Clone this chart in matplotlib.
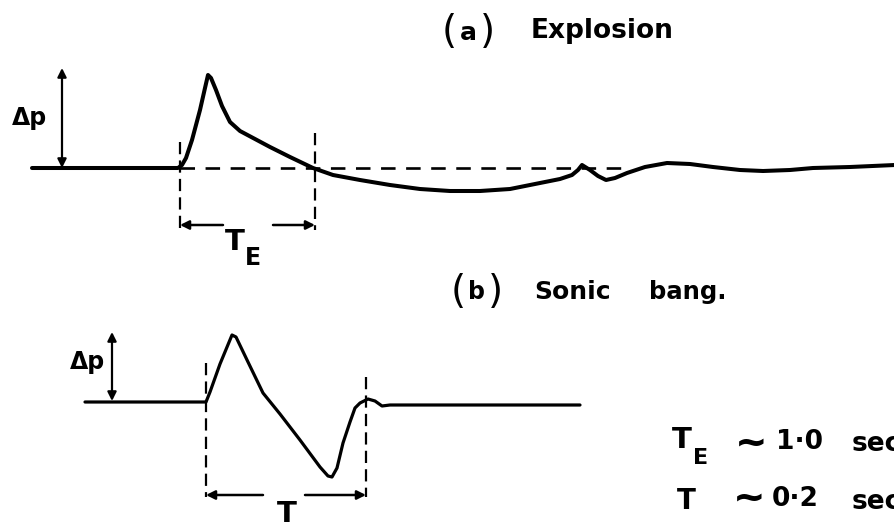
import matplotlib
matplotlib.use("Agg")
import matplotlib.pyplot as plt

# waveforms (drawing units, y grows downward)
explosion_x = [32, 178, 182, 186, 192, 200, 205, 208, 211, 216, 222, 230, 240, 255, 270, 290,
               313, 333, 360, 390, 420, 450, 480, 510, 540, 560, 572, 578, 582, 590, 598, 606,
               615, 627, 645, 667, 690, 713, 740, 763, 790, 813, 850, 895]
explosion_y = [168, 168, 165, 158, 140, 110, 88, 75, 78, 90, 106, 122, 131, 139, 147, 157,
               168, 175, 180, 185, 189, 191, 191, 189, 183, 179, 175, 170, 165, 170, 176, 180,
               178, 173, 167, 163, 164, 167, 170, 171, 170, 168, 167, 165]

sonic_x = [85, 206, 210, 220, 232, 236, 248, 263, 280, 300, 320, 328, 332, 337, 343, 350,
           355, 360, 368, 375, 382, 390, 580]
sonic_y = [402, 402, 392, 364, 335, 337, 362, 393, 414, 440, 467, 476, 477, 468, 443, 422,
           408, 403, 399, 401, 406, 405, 405]

# reference levels / markers
zero_a = 168
te_start, te_end = 180, 315
t_start, t_end = 206, 366
dashed_zero_end = 624

fig = plt.figure(figsize=(8.95, 5.24), dpi=100)
ax = fig.add_axes([0, 0, 1, 1])
ax.set_xlim(0, 895)
ax.set_ylim(524, 0)
ax.axis("off")

# curves
ax.plot(explosion_x, explosion_y, color="black", lw=2.9, solid_capstyle="round",
        solid_joinstyle="round")
ax.plot(sonic_x, sonic_y, color="black", lw=2.3, solid_capstyle="round",
        solid_joinstyle="round")

hdash = (0, (5.5, 4.0))
vdash = (0, (5.5, 2.8))
ax.plot([te_start, dashed_zero_end], [zero_a, zero_a], color="black", lw=1.9, ls=hdash)
ax.plot([te_start, te_start], [142, 233], color="black", lw=1.6, ls=vdash)
ax.plot([te_end, te_end], [133, 230], color="black", lw=1.6, ls=vdash)
ax.plot([t_start, t_start], [363, 497], color="black", lw=1.6, ls=vdash)
ax.plot([t_end, t_end], [377, 497], color="black", lw=1.6, ls=vdash)

arrow = dict(arrowstyle="-|>", lw=1.8, color="black", mutation_scale=13,
             shrinkA=0, shrinkB=0)
darrow = dict(arrowstyle="<|-|>", lw=1.6, color="black", mutation_scale=13,
              shrinkA=0, shrinkB=0)

# duration arrows
ax.annotate("", xy=(te_start, 225), xytext=(223, 225), arrowprops=arrow)
ax.annotate("", xy=(te_end, 225), xytext=(273, 225), arrowprops=arrow)
ax.annotate("", xy=(t_start, 495), xytext=(263, 495), arrowprops=arrow)
ax.annotate("", xy=(t_end, 495), xytext=(305, 495), arrowprops=arrow)

# amplitude arrows
ax.annotate("", xy=(62, 68), xytext=(62, 168), arrowprops=darrow)
ax.annotate("", xy=(112, 332), xytext=(112, 401), arrowprops=darrow)

bold = dict(color="black", fontweight="bold", family="DejaVu Sans")

ax.text(30, 118, "Δp", fontsize=17, ha="center", va="center", **bold)
ax.text(88, 362, "Δp", fontsize=17, ha="center", va="center", **bold)

ax.text(235, 242, "T", fontsize=21, ha="center", va="center", **bold)
ax.text(253, 258, "E", fontsize=17, ha="center", va="center", **bold)
ax.text(287, 514, "T", fontsize=21, ha="center", va="center", **bold)

# titles
ax.text(449, 32, "(", fontsize=28, ha="center", va="center", color="black")
ax.text(468, 33, "a", fontsize=18, ha="center", va="center", **bold)
ax.text(487, 32, ")", fontsize=28, ha="center", va="center", color="black")
ax.text(531, 31, "Explosion", fontsize=19, ha="left", va="center", **bold)

ax.text(458, 292, "(", fontsize=28, ha="center", va="center", color="black")
ax.text(477, 292, "b", fontsize=17, ha="center", va="center", **bold)
ax.text(495, 292, ")", fontsize=28, ha="center", va="center", color="black")
ax.text(534, 292, "Sonic", fontsize=18, ha="left", va="center", **bold)
ax.text(649, 292, "bang.", fontsize=17.5, ha="left", va="center", **bold)

# durations
ax.text(682, 440, "T", fontsize=21, ha="center", va="center", **bold)
ax.text(701, 458, "E", fontsize=16, ha="center", va="center", **bold)
ax.text(751, 444, "~", fontsize=28, ha="center", va="center", **bold)
ax.text(800, 442, "1·0", fontsize=19, ha="center", va="center", **bold)
ax.text(852, 444, "sec", fontsize=19, ha="left", va="center", **bold)

ax.text(686, 501, "T", fontsize=20, ha="center", va="center", **bold)
ax.text(749, 499, "~", fontsize=28, ha="center", va="center", **bold)
ax.text(795, 499, "0·2", fontsize=19, ha="center", va="center", **bold)
ax.text(852, 502, "sec", fontsize=19, ha="left", va="center", **bold)

fig.savefig("out.png", dpi=100)
